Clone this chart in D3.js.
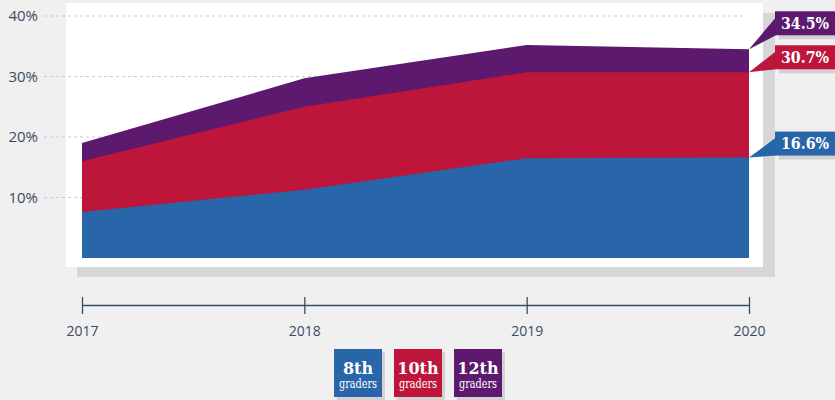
<!DOCTYPE html>
<html><head><meta charset="utf-8">
<script src="https://cdn.jsdelivr.net/npm/d3@7"></script>
<style>
html,body{margin:0;padding:0;background:#f0f0f0;}
svg{display:block;}
</style></head>
<body>
<svg id="chart" width="835" height="400"></svg>
<script>
const years = [2017, 2018, 2019, 2020];
const grade8 = [7.6, 11.3, 16.5, 16.6];
const grade10 = [16.0, 25.0, 30.7, 30.7];
const grade12 = [19.0, 29.7, 35.2, 34.5];
const yTicks = [10, 20, 30, 40];
const seriesNames = ["8th", "10th", "12th"];
const colors = ["#2866a9", "#be153b", "#5c196e"];

const svg = d3.select("#chart");
const x = d3.scaleLinear().domain([2017, 2020]).range([82, 749]);
const y = d3.scaleLinear().domain([0, 40]).range([258, 16]);

// panel shadow and panel
svg.append("rect").attr("x", 77).attr("y", 13).attr("width", 698).attr("height", 264).attr("fill", "#d7d7d7");
svg.append("rect").attr("x", 66).attr("y", 3).attr("width", 697).attr("height", 264).attr("fill", "#ffffff");

// gridlines
svg.append("g").selectAll("line").data(yTicks).join("line")
  .attr("x1", 44).attr("x2", 745)
  .attr("y1", d => y(d)).attr("y2", d => y(d))
  .attr("stroke", "#c9c9c9").attr("stroke-width", 1).attr("stroke-dasharray", "3,3");

// y labels
svg.append("g").selectAll("text").data(yTicks).join("text")
  .attr("x", 38).attr("y", d => y(d)).attr("dy", "0.35em")
  .attr("text-anchor", "end")
  .attr("font-family", "'Open Sans', sans-serif").attr("font-size", 15)
  .attr("fill", "#3b4c62")
  .text(d => d + "%");

// areas: back to front
const series = [grade12, grade10, grade8];
const seriesColors = [colors[2], colors[1], colors[0]];
const area = d3.area().x((d, i) => x(years[i])).y0(y(0)).y1(d => y(d));
svg.append("g").selectAll("path").data(series).join("path")
  .attr("d", d => area(d))
  .attr("fill", (d, i) => seriesColors[i]);

// x axis
const xAxis = d3.axisBottom(x).tickValues(years).tickFormat(d3.format("d")).tickSize(0).tickPadding(18);
const gx = svg.append("g").attr("transform", "translate(0,305)").call(xAxis);
gx.select(".domain").attr("stroke", "#3b4c62").attr("stroke-width", 1.3);
gx.selectAll(".tick").append("line").attr("y1", -8).attr("y2", 9).attr("stroke", "#3b4c62").attr("stroke-width", 1.3);
gx.selectAll(".tick text").attr("font-family", "'Open Sans', sans-serif").attr("font-size", 14).attr("fill", "#3b4c62").attr("dy", "0.35em").attr("y", 26);

// callouts
const lastVals = [grade8[3], grade10[3], grade12[3]];
const boxCenterOffsets = [-14, -15, -26];
const g = svg.append("g");
lastVals.forEach((v, i) => {
  const py = y(v);
  const cy = py + boxCenterOffsets[i];
  const bx = 775, bh = 24, bw = 60;
  g.append("rect").attr("x", bx + 4).attr("y", cy - bh / 2 + 4).attr("width", bw).attr("height", bh).attr("fill", "#d2d2d2");
  g.append("path")
    .attr("d", `M${x(2020)},${py} L${bx + 1},${cy - 6} L${bx + 1},${cy + bh / 2} Z`)
    .attr("fill", colors[i]);
  g.append("rect").attr("x", bx).attr("y", cy - bh / 2).attr("width", bw).attr("height", bh).attr("fill", colors[i]);
  g.append("text").attr("x", 781).attr("y", cy).attr("dy", "0.36em")
    .attr("font-family", "'DejaVu Serif Condensed', 'DejaVu Serif', serif").attr("font-stretch", "condensed")
    .attr("font-weight", "bold").attr("font-size", 16)
    .attr("textLength", 48).attr("lengthAdjust", "spacingAndGlyphs")
    .attr("fill", "#fff").text(d3.format(".1f")(v) + "%");
});

// legend
const legendX = [334, 394, 454];
const lg = svg.append("g");
seriesNames.forEach((n, i) => {
  const lx = legendX[i];
  lg.append("rect").attr("x", lx + 3).attr("y", 352).attr("width", 48).attr("height", 48).attr("fill", "#d2d2d2");
  lg.append("rect").attr("x", lx).attr("y", 349).attr("width", 48).attr("height", 48).attr("fill", colors[i]);
  lg.append("text").attr("x", lx + 24).attr("y", 368).attr("dy", "0.36em").attr("text-anchor", "middle")
    .attr("font-family", "'DejaVu Serif', serif").attr("font-weight", "bold").attr("font-size", 16)
    .attr("fill", "#fff").text(n);
  lg.append("text").attr("x", lx + 24).attr("y", 384).attr("dy", "0.36em").attr("text-anchor", "middle")
    .attr("font-family", "'DejaVu Serif', serif").attr("font-size", 12)
    .attr("textLength", 38).attr("lengthAdjust", "spacingAndGlyphs")
    .attr("fill", "#fff").text("graders");
});
</script>
</body></html>
